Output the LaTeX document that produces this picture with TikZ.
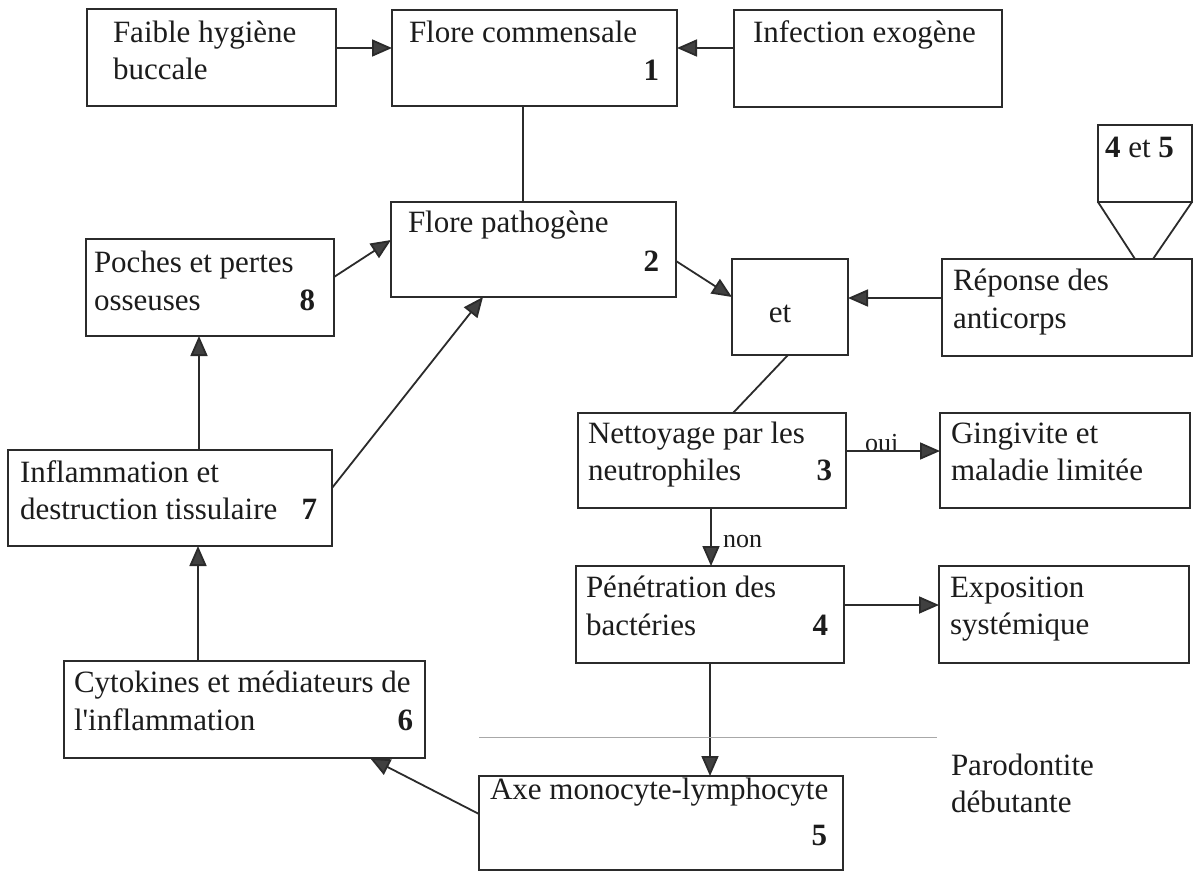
\documentclass[tikz,border=0pt]{standalone}
\usepackage{fontspec}
\setmainfont{Liberation Serif}
\usetikzlibrary{arrows.meta,calc}
\definecolor{ln}{HTML}{2B2B2B}
\definecolor{hd}{HTML}{404040}
\definecolor{sep}{HTML}{A8A8A8}
\definecolor{tx}{HTML}{1C1C1C}
\begin{document}
\begin{tikzpicture}[x=1pt,y=-1pt,
  box/.style={draw=ln,line width=1.8pt,inner sep=0pt,outer sep=0pt,anchor=north west},
  txt/.style={inner sep=0pt,outer sep=0pt,text=tx,font=\fontsize{31}{37.5}\selectfont,anchor=base west},
  num/.style={inner sep=0pt,outer sep=0pt,text=tx,anchor=base east,font=\fontsize{31}{37.5}\selectfont\bfseries},
  lbl/.style={inner sep=0pt,outer sep=0pt,text=tx,anchor=base west,font=\fontsize{26}{30}\selectfont},
  arr/.style={draw=ln,line width=1.8pt,-{Triangle[length=20pt,width=17pt,fill=hd]}},
  con/.style={draw=ln,line width=1.8pt}]
\path[use as bounding box,fill=white] (0,0) rectangle (1195,873);

% boxes
\node[box,minimum width=249pt,minimum height=97pt] (faible) at (87,9) {};
\node[box,minimum width=285pt,minimum height=96pt] (fc) at (392,10) {};
\node[box,minimum width=268pt,minimum height=97pt] (infex) at (734,10) {};
\node[box,minimum width=285pt,minimum height=95pt] (fp) at (391,202) {};
\node[box,minimum width=248pt,minimum height=97pt] (poches) at (86,239) {};
\node[box,minimum width=94pt,minimum height=77pt] (ket) at (1098,125) {};
\node[box,minimum width=116pt,minimum height=96pt] (et) at (732,259) {};
\node[box,minimum width=250pt,minimum height=97pt] (rep) at (942,259) {};
\node[box,minimum width=268pt,minimum height=95pt] (net) at (578,413) {};
\node[box,minimum width=250pt,minimum height=95pt] (ging) at (940,413) {};
\node[box,minimum width=324pt,minimum height=96pt] (infl) at (8,450) {};
\node[box,minimum width=268pt,minimum height=97pt] (pen) at (576,566) {};
\node[box,minimum width=250pt,minimum height=97pt] (expo) at (939,566) {};
\node[box,minimum width=361pt,minimum height=97pt] (cyto) at (64,661) {};
\node[box,minimum width=364pt,minimum height=94pt] (axe) at (479,776) {};

% texts
\node[txt] (t1a) at (113,42) {Faible hygiène};
\node[txt] (t1b) at (113,79) {buccale};
\node[txt] (t2a) at (409,42) {Flore commensale};
\node[num] (n1) at (659,80) {1};
\node[txt] (t3a) at (753,42) {Infection exogène};
\node[txt] (t4a) at (408,232) {Flore pathogène};
\node[num] (n2) at (659,271) {2};
\node[txt] (t5a) at (94,272) {Poches et pertes};
\node[txt] (t5b) at (94,310) {osseuses};
\node[num] (n8) at (315,310) {8};
\node[txt] (t6a) at (1105,157) {\textbf{4} et \textbf{5}};
\node[txt,anchor=base] (t7a) at (780,322) {et};
\node[txt] (t8a) at (953,290) {Réponse des};
\node[txt] (t8b) at (953,328) {anticorps};
\node[txt] (t9a) at (588,443) {Nettoyage par les};
\node[txt] (t9b) at (588,480) {neutrophiles};
\node[num] (n3) at (832,480) {3};
\node[txt] (t10a) at (951,443) {Gingivite et};
\node[txt] (t10b) at (951,480) {maladie limitée};
\node[txt] (t11a) at (20,482) {Inflammation et};
\node[txt] (t11b) at (20,519) {destruction tissulaire};
\node[num] (n7) at (317,519) {7};
\node[txt] (t12a) at (586,597) {Pénétration des};
\node[txt] (t12b) at (586,635) {bactéries};
\node[num] (n4) at (828,635) {4};
\node[txt] (t13a) at (950,597) {Exposition};
\node[txt] (t13b) at (950,634) {systémique};
\node[txt] (t14a) at (74,692) {Cytokines et médiateurs de};
\node[txt] (t14b) at (74,730) {l\textquotesingle inflammation};
\node[num] (n6) at (413,730) {6};
\node[txt] (t15a) at (490,799) {Axe monocyte-lymphocyte};
\node[num] (n5) at (827,845) {5};
\node[txt] (t16a) at (951,775) {Parodontite};
\node[txt] (t16b) at (951,812) {débutante};
\node[lbl] (oui) at (865,451) {oui};
\node[lbl] (non) at (723,547) {non};

% helper coordinates
\coordinate (h48) at (0,48);
\coordinate (h277) at (0,277);
\coordinate (h240) at (0,240);
\coordinate (h261) at (0,261);
\coordinate (h297) at (0,297);
\coordinate (h298) at (0,298);
\coordinate (h451) at (0,451);
\coordinate (h605) at (0,605);
\coordinate (h488) at (0,488);
\coordinate (h814) at (0,814);
\coordinate (v523) at (523,0);
\coordinate (v483) at (483,0);
\coordinate (v370) at (370,0);
\coordinate (v198) at (198,0);
\coordinate (v199) at (199,0);
\coordinate (v711) at (711,0);
\coordinate (v710) at (710,0);
\coordinate (v788) at (788,0);
\coordinate (v733) at (733,0);
\coordinate (v1135) at (1135,0);
\coordinate (v1153) at (1153,0);
\coordinate (sepA) at (479,737);
\coordinate (sepB) at (937,737);

% connectors
\draw[arr] (faible.east |- h48) -- (fc.west |- h48);
\draw[arr] (infex.west |- h48) -- (fc.east |- h48);
\draw[con] (fc.south -| v523) -- (fp.north -| v523);
\draw[arr] (poches.east |- h277) -- (fp.west |- h240);
\draw[arr] (fp.east |- h261) -- (et.west |- h297);
\draw[arr] (rep.west |- h298) -- (et.east |- h298);
\draw[con] (ket.south west) -- (rep.north -| v1135);
\draw[con] (ket.south east) -- (rep.north -| v1153);
\draw[con] (et.south -| v788) -- (net.north -| v733);
\draw[arr] (net.east |- h451) -- (ging.west |- h451);
\draw[arr] (net.south -| v711) -- (pen.north -| v711);
\draw[arr] (pen.east |- h605) -- (expo.west |- h605);
\draw[arr] (pen.south -| v710) -- (axe.north -| v710);
\draw[arr] (axe.west |- h814) -- (cyto.south -| v370);
\draw[arr] (cyto.north -| v198) -- (infl.south -| v198);
\draw[arr] (infl.north -| v199) -- (poches.south -| v199);
\draw[arr] (infl.east |- h488) -- (fp.south -| v483);
\draw[sep,line width=1pt] (sepA) -- (sepB);
\end{tikzpicture}
\end{document}
